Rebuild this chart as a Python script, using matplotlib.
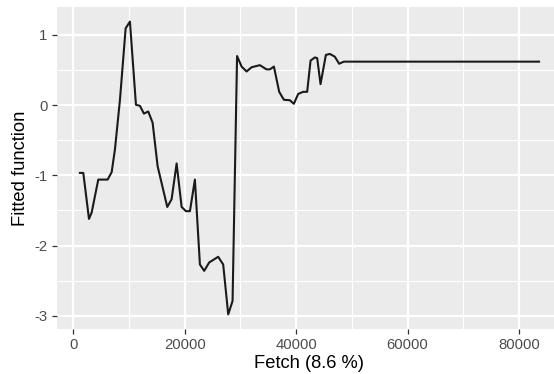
import matplotlib
matplotlib.use("Agg")
import matplotlib.pyplot as plt
from matplotlib.ticker import MultipleLocator

# values
fetch = [1200, 1800, 2820, 3300, 4490, 6170, 6890, 7480, 8380, 9400, 10170,
         11250, 11970, 12680, 13460, 14240, 15140, 16870, 17650, 18550, 19450,
         20220, 20940, 21830, 22730, 23500, 24400, 26010, 26910, 27810, 28590,
         29400, 30210, 31110, 32000, 33490, 34690, 35290, 36010, 36960, 37800,
         38880, 39590, 40370, 41260, 41980, 42590, 43360, 43780, 44380, 45340,
         46050, 46950, 47720, 48560, 83600]
fitted = [-0.965, -0.965, -1.62, -1.53, -1.06, -1.06, -0.955, -0.63, 0.077,
          1.095, 1.19, 0.006, -0.01, -0.12, -0.09, -0.25, -0.87, -1.45, -1.34,
          -0.83, -1.45, -1.51, -1.51, -1.06, -2.27, -2.36, -2.24, -2.16, -2.27,
          -2.98, -2.79, 0.70, 0.55, 0.48, 0.54, 0.57, 0.51, 0.51, 0.55, 0.19,
          0.077, 0.07, 0.02, 0.16, 0.19, 0.19, 0.635, 0.68, 0.67, 0.30, 0.716,
          0.73, 0.69, 0.59, 0.62, 0.62]

x_title = "Fetch (8.6 %)"
y_title = "Fitted function"

plt.rcParams["font.family"] = ["Liberation Sans", "DejaVu Sans"]
plt.rcParams["axes.unicode_minus"] = False

fig = plt.figure(figsize=(5.54, 3.74), dpi=100)
# panel runs a little past the right edge, like the cropped original
ax = fig.add_axes([57 / 554, 45 / 374, 505 / 554, 322 / 374])
ax.set_facecolor("#EBEBEB")

ax.plot(fetch, fitted, color="#1a1a1a", linewidth=1.5, zorder=3)
ax.margins(x=0.05, y=0.05)

ax.xaxis.set_major_locator(MultipleLocator(20000))
ax.xaxis.set_minor_locator(MultipleLocator(10000))
ax.yaxis.set_major_locator(MultipleLocator(1))
ax.yaxis.set_minor_locator(MultipleLocator(0.5))

ax.grid(which="major", color="white", linewidth=1.6)
ax.grid(which="minor", color="white", linewidth=0.8)
ax.set_axisbelow(True)

for s in ax.spines.values():
    s.set_visible(False)

ax.tick_params(which="major", length=3.5, width=0.9, color="#333333",
               labelsize=10.7, labelcolor="#4D4D4D", pad=3.3)
ax.tick_params(which="minor", length=0)

ax.set_xlabel(x_title, fontsize=13.2, labelpad=2)
ax.set_ylabel(y_title, fontsize=13.2, labelpad=4)

fig.savefig("out.png", dpi=100)
